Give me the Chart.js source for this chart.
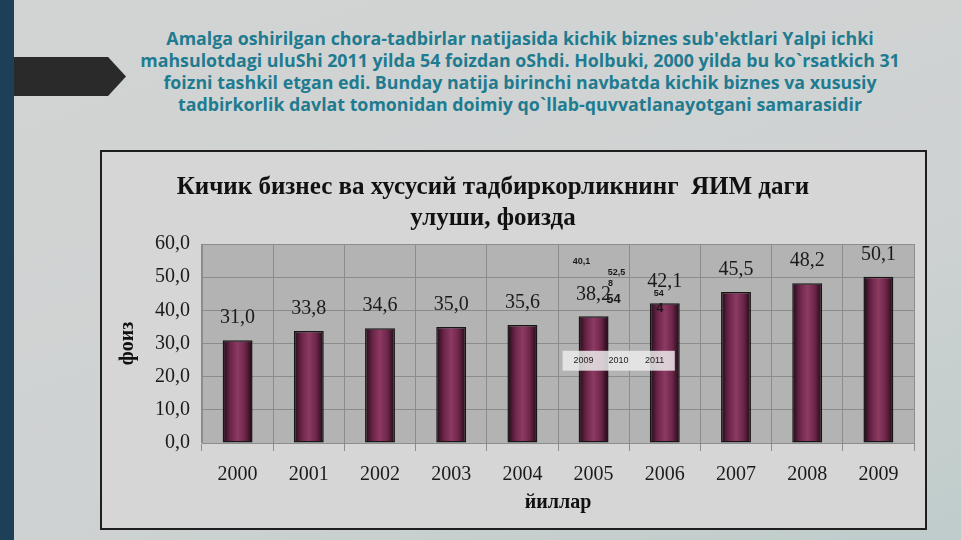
<!DOCTYPE html>
<html>
<head>
<meta charset="utf-8">
<script src="https://cdn.jsdelivr.net/npm/chart.js@4.4.1/dist/chart.umd.min.js"></script>
<style>
  body { margin: 0; width: 961px; height: 540px; overflow: hidden; position: relative;
         background: linear-gradient(160deg, #d2d4d4 0%, #cfd2d2 60%, #bfcccb 100%);
         font-family: 'Open Sans', sans-serif; }
  .strip { position: absolute; left: 0; top: 0; width: 14px; height: 540px; background: #1d3f57; }
  .arrow { position: absolute; left: 14px; top: 57px; width: 112px; height: 39px; background: #2a2a2a;
           clip-path: polygon(0 0, 84% 0, 100% 50%, 84% 100%, 0 100%); }
  .heading { position: absolute; left: 120px; top: 27px; width: 800px; text-align: center;
             color: #1f7b90; font-weight: 700; font-size: 17.8px; line-height: 22px; white-space: nowrap; }
  .box { position: absolute; left: 100px; top: 150px; width: 823px; height: 376px;
         border: 2px solid #1e1e1e; background: #d6d6d6; }
  .box canvas { position: absolute; left: 0; top: 0; }
  .ctitle { position: absolute; left: 0; top: 18px; width: 782px; text-align: center;
            font-family: 'Liberation Serif', serif; font-weight: 700; font-size: 25px;
            line-height: 31px; color: #111; }
</style>
</head>
<body>
<div class="strip"></div>
<div class="arrow"></div>
<div class="heading">Amalga oshirilgan chora-tadbirlar natijasida kichik biznes sub'ektlari Yalpi ichki<br>mahsulotdagi uluShi 2011 yilda 54 foizdan oShdi. Holbuki, 2000 yilda bu ko`rsatkich 31<br>foizni tashkil etgan edi. Bunday natija birinchi navbatda kichik biznes va xususiy<br>tadbirkorlik davlat tomonidan doimiy qo`llab-quvvatlanayotgani samarasidir</div>
<div class="box">
  <canvas id="chart" width="823" height="376"></canvas>
  <div class="ctitle">Кичик бизнес ва хусусий тадбиркорликнинг&nbsp; ЯИМ даги<br>улуши, фоизда</div>
</div>
<script>
const years = ['2000', '2001', '2002', '2003', '2004', '2005', '2006', '2007', '2008', '2009'];
const shares = [31.0, 33.8, 34.6, 35.0, 35.6, 38.2, 42.1, 45.5, 48.2, 50.1];
const yTicks = [0, 10, 20, 30, 40, 50, 60];

// stray pasted labels sitting over the 2005/2006 bars in the original slide
const strayYears = ['2009', '2010', '2011'];
const strayTexts = ['40,1', '52,5', '8', '54', '54', '4'];

const fmt = v => v.toFixed(1).replace('.', ',');
const BAR_FRAC = 0.42;

function barGradient(context) {
    const chart = context.chart;
    const { ctx, chartArea } = chart;
    if (!chartArea) return '#7a2a52';
    const x = chart.scales.x;
    const cx = x.getPixelForValue(context.dataIndex);
    const half = (chartArea.width / years.length) * BAR_FRAC / 2;
    const g = ctx.createLinearGradient(cx - half, 0, cx + half, 0);
    g.addColorStop(0, '#1e0a15');
    g.addColorStop(0.25, '#6a2447');
    g.addColorStop(0.5, '#8d3a63');
    g.addColorStop(0.75, '#6d2649');
    g.addColorStop(1, '#1c0813');
    return g;
}

const plotBg = {
    id: 'plotBg',
    beforeDraw(chart) {
        const { ctx, chartArea: a } = chart;
        ctx.save();
        ctx.fillStyle = '#b3b3b3';
        ctx.fillRect(a.left, a.top, a.width, a.height);
        ctx.restore();
    }
};

const valueLabels = {
    id: 'valueLabels',
    afterDatasetsDraw(chart) {
        const { ctx } = chart;
        const meta = chart.getDatasetMeta(0);
        ctx.save();
        ctx.font = '20px "Liberation Serif", serif';
        ctx.fillStyle = '#1a1a1a';
        ctx.textAlign = 'center';
        ctx.textBaseline = 'middle';
        meta.data.forEach((bar, i) => {
            ctx.fillText(fmt(shares[i]), bar.x, bar.y - 22);
        });

        // stray overlay bits
        const x = chart.scales.x, y = chart.scales.y;
        const c5 = x.getPixelForValue(5), c6 = x.getPixelForValue(6);
        ctx.font = 'bold 9px "Liberation Sans", sans-serif';
        ctx.fillText(strayTexts[0], c5 - 12, y.getPixelForValue(54.6));
        ctx.fillText(strayTexts[1], c5 + 23, y.getPixelForValue(51.3));
        ctx.fillText(strayTexts[2], c5 + 17, y.getPixelForValue(48.0));
        ctx.fillText(strayTexts[4], c6 - 6, y.getPixelForValue(45.2));
        ctx.font = 'bold 13px "Liberation Sans", sans-serif';
        ctx.fillText(strayTexts[3], c5 + 20, y.getPixelForValue(43.3));
        ctx.fillText(strayTexts[5], c6 - 5, y.getPixelForValue(40.5));

        const bx = c5 - 31, by = y.getPixelForValue(27.8);
        const bw = (c6 + 10) - bx, bh = y.getPixelForValue(21.8) - by;
        ctx.fillStyle = 'rgba(235,235,235,0.85)';
        ctx.fillRect(bx, by, bw, bh);
        ctx.fillStyle = '#222';
        ctx.font = '9px "Liberation Sans", sans-serif';
        const ym = by + bh / 2;
        ctx.fillText(strayYears[0], bx + 21, ym);
        ctx.fillText(strayYears[1], bx + 56, ym);
        ctx.fillText(strayYears[2], bx + 92, ym);
        ctx.restore();
    }
};

new Chart(document.getElementById('chart'), {
    type: 'bar',
    data: {
        labels: years,
        datasets: [{
            data: shares,
            backgroundColor: barGradient,
            borderColor: '#161616',
            borderWidth: 1.5,
            borderSkipped: false,
            barPercentage: BAR_FRAC,
            categoryPercentage: 1
        }]
    },
    options: {
        responsive: false,
        animation: false,
        layout: { padding: { top: 92, right: 11, left: 0, bottom: 0 } },
        plugins: {
            legend: { display: false },
            tooltip: { enabled: false }
        },
        scales: {
            x: {
                grid: { color: '#8c8c8c', lineWidth: 1, tickLength: 8, offset: true },
                border: { color: '#8c8c8c' },
                ticks: { color: '#1a1a1a', padding: 12, font: { family: '"Liberation Serif", serif', size: 20 } },
                title: {
                    display: true, text: 'йиллар', color: '#111',
                    font: { family: '"Liberation Serif", serif', size: 20, weight: 'bold' },
                    padding: { top: 0, bottom: 13 }
                },
                afterFit(scale) { scale.height = 85; }
            },
            y: {
                min: 0, max: 60,
                afterBuildTicks(scale) { scale.ticks = yTicks.map(v => ({ value: v })); },
                grid: { color: '#8c8c8c', lineWidth: 1, drawTicks: false },
                border: { color: '#8c8c8c' },
                ticks: { color: '#1a1a1a', padding: 12, callback: v => fmt(v),
                         font: { family: '"Liberation Serif", serif', size: 20 } },
                title: {
                    display: true, text: 'фоиз', color: '#111',
                    font: { family: '"Liberation Serif", serif', size: 20, weight: 'bold' },
                    padding: { top: 14, bottom: 0 }
                },
                afterFit(scale) { scale.width = 100; }
            }
        }
    },
    plugins: [plotBg, valueLabels]
});
</script>
</body>
</html>
